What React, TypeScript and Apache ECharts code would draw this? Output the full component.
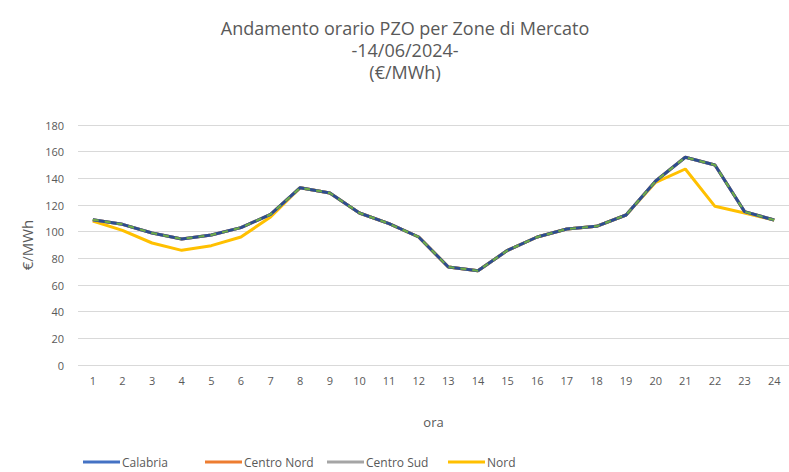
import React, { useEffect, useRef } from "react";
import * as echarts from "echarts";

const hours = ["1","2","3","4","5","6","7","8","9","10","11","12","13","14","15","16","17","18","19","20","21","22","23","24"];
const calabria = [109, 105.5, 99, 94.5, 97.5, 103, 113, 133, 129, 114, 106, 96, 73.5, 70.7, 86, 96, 102, 104, 112.5, 138, 155.8, 150, 115, 108.7];
const centroNord = [109, 105.5, 99, 94.5, 97.5, 103, 113, 133, 129, 114, 106, 96, 73.5, 70.7, 86, 96, 102, 104, 112.5, 138, 155.8, 150, 115, 108.7];
const centroSud = [109, 105.5, 99, 94.5, 97.5, 103, 113, 133, 129, 114, 106, 96, 73.5, 70.7, 86, 96, 102, 104, 112.5, 138, 155.8, 150, 115, 108.7];
const sud = [109, 105.5, 99, 94.5, 97.5, 103, 113, 133, 129, 114, 106, 96, 73.5, 70.7, 86, 96, 102, 104, 112.5, 138, 155.8, 150, 115, 108.7];
const nord = [108, 101, 91.5, 86, 89.5, 96, 111, 133, 129, 114, 106, 96, 73.5, 70.7, 86, 96, 102, 104, 112.5, 137, 147, 119, 114, 108.7];
const legendNames = ["Calabria", "Centro Nord", "Centro Sud", "Nord"];
const yTicks = { min: 0, max: 180, interval: 20 };

export default function App() {
  const ref = useRef<HTMLDivElement>(null);
  useEffect(() => {
    const chart = echarts.init(ref.current!, null, { renderer: "svg" });
    const font = "'Open Sans', 'Liberation Sans', sans-serif";
    const legendLefts = [83, 205, 327, 448];
    chart.setOption({
      animation: false,
      backgroundColor: "#ffffff",
      title: {
        text: "Andamento orario PZO per Zone di Mercato\n-14/06/2024-\n(€/MWh)",
        left: 400,
        textAlign: "center",
        top: 12,
        textStyle: { fontFamily: font, fontSize: 18, fontWeight: "normal", color: "#595959", lineHeight: 22 },
      },
      legend: legendNames.map((n, i) => ({
        data: [n],
        left: legendLefts[i],
        top: 456,
        padding: 0,
        icon: "rect",
        itemWidth: 37,
        itemHeight: 3,
        textStyle: { fontFamily: font, fontSize: 12, color: "#595959", padding: [0, 0, 0, -3] },
      })),
      grid: { left: 78, top: 125, width: 713, height: 240, containLabel: false },
      xAxis: {
        type: "category",
        data: hours,
        boundaryGap: true,
        name: "ora",
        nameLocation: "middle",
        nameGap: 50,
        nameTextStyle: { fontFamily: font, fontSize: 13, color: "#595959" },
        axisLine: { show: false },
        axisTick: { show: false },
        axisLabel: { fontFamily: font, fontSize: 11, color: "#595959", margin: 10 },
      },
      yAxis: {
        type: "value",
        min: yTicks.min,
        max: yTicks.max,
        interval: yTicks.interval,
        name: "€/MWh",
        nameLocation: "middle",
        nameGap: 43,
        nameRotate: 90,
        nameTextStyle: { fontFamily: font, fontSize: 15, color: "#595959" },
        axisLabel: { fontFamily: font, fontSize: 11, color: "#595959", margin: 14 },
        splitLine: { lineStyle: { color: "#d9d9d9", width: 1 } },
        axisLine: { show: false },
        axisTick: { show: false },
      },
      series: [
        { name: "Nord", type: "line", data: nord, symbol: "none", z: 1, lineStyle: { color: "#FFC000", width: 3 }, itemStyle: { color: "#FFC000" } },
        { name: "Centro Nord", type: "line", data: centroNord, symbol: "none", z: 2, lineStyle: { color: "#ED7D31", width: 3 }, itemStyle: { color: "#ED7D31" } },
        { name: "Centro Sud", type: "line", data: centroSud, symbol: "none", z: 3, lineStyle: { color: "#A5A5A5", width: 3 }, itemStyle: { color: "#A5A5A5" } },
        { name: "Calabria", type: "line", data: calabria, symbol: "none", z: 4, lineStyle: { color: "#2E4D8E", width: 3 }, itemStyle: { color: "#4472C4" } },
        { name: "Sud", type: "line", data: sud, symbol: "none", z: 5, lineStyle: { color: "#70AD47", width: 2, type: [6, 6] }, itemStyle: { color: "#70AD47" } },
      ],
    });
    return () => chart.dispose();
  }, []);
  return <div ref={ref} style={{ width: 789, height: 472, position: "absolute", left: 0, top: 0 }} />;
}
